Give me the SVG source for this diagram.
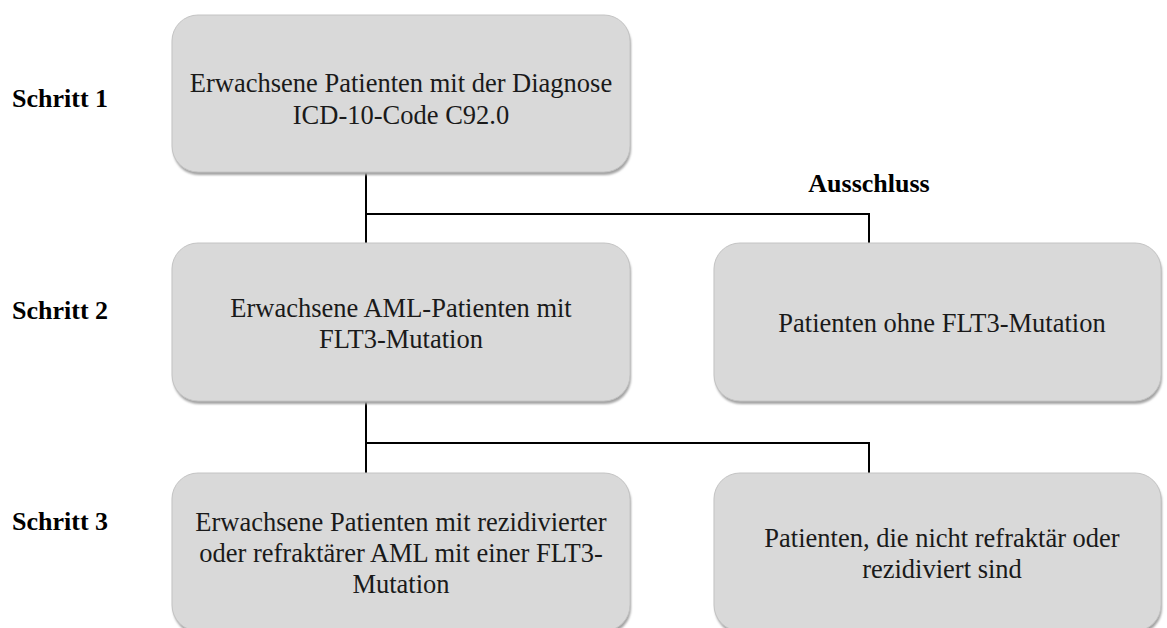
<svg xmlns="http://www.w3.org/2000/svg" width="1167" height="628" viewBox="0 0 1167 628">
  <style>
    .box { fill: #d9d9d9; stroke: #c4c4c4; stroke-width: 1; }
    .shadow { fill: #a3a3a3; }
    text { font-family: 'Liberation Serif', 'Times New Roman', Times, serif; }
    .txt { font-size: 26.5px; fill: #1a1a1a; text-anchor: middle; }
    .step { font-size: 26px; font-weight: bold; fill: #000; }
    .conn { fill: none; stroke: #000; stroke-width: 2; }
  </style>
  <defs>
    <filter id="soft" x="-5%" y="-5%" width="110%" height="115%">
      <feGaussianBlur stdDeviation="1"/>
    </filter>
  </defs>
  <rect width="1167" height="628" fill="#ffffff"/>

  <!-- step labels -->
  <g id="labels">
    <text class="step" x="12" y="107">Schritt 1</text>
    <text class="step" x="12" y="319">Schritt 2</text>
    <text class="step" x="12" y="530">Schritt 3</text>
    <text class="step" x="869" y="192" text-anchor="middle">Ausschluss</text>
  </g>

  <!-- connectors -->
  <g id="connectors">
    <path class="conn" d="M366 173 V243 M366 214 H869 V243"/>
    <path class="conn" d="M366 402 V473 M366 443 H869 V473"/>
  </g>

  <g id="node-step1">
    <rect class="shadow" x="173" y="18" width="458" height="157" rx="26" filter="url(#soft)"/>
    <rect class="box" x="172" y="15" width="458" height="157" rx="26"/>
    <text class="txt" x="401" y="92">Erwachsene Patienten mit der Diagnose</text>
    <text class="txt" x="401" y="124">ICD-10-Code C92.0</text>
  </g>

  <g id="node-step2">
    <rect class="shadow" x="173" y="246" width="458" height="158" rx="26" filter="url(#soft)"/>
    <rect class="box" x="172" y="243" width="458" height="158" rx="26"/>
    <text class="txt" x="401" y="317">Erwachsene AML-Patienten mit</text>
    <text class="txt" x="401" y="348">FLT3-Mutation</text>
  </g>

  <g id="node-exclude2">
    <rect class="shadow" x="715" y="246" width="447" height="158" rx="26" filter="url(#soft)"/>
    <rect class="box" x="714" y="243" width="447" height="158" rx="26"/>
    <text class="txt" x="942" y="332">Patienten ohne FLT3-Mutation</text>
  </g>

  <g id="node-step3">
    <rect class="shadow" x="173" y="476" width="458" height="158" rx="26" filter="url(#soft)"/>
    <rect class="box" x="172" y="473" width="458" height="158" rx="26"/>
    <text class="txt" x="401" y="531">Erwachsene Patienten mit rezidivierter</text>
    <text class="txt" x="401" y="562">oder refraktärer AML mit einer FLT3-</text>
    <text class="txt" x="401" y="593">Mutation</text>
  </g>

  <g id="node-exclude3">
    <rect class="shadow" x="715" y="476" width="447" height="158" rx="26" filter="url(#soft)"/>
    <rect class="box" x="714" y="473" width="447" height="158" rx="26"/>
    <text class="txt" x="942" y="547">Patienten, die nicht refraktär oder</text>
    <text class="txt" x="942" y="578">rezidiviert sind</text>
  </g>
</svg>
